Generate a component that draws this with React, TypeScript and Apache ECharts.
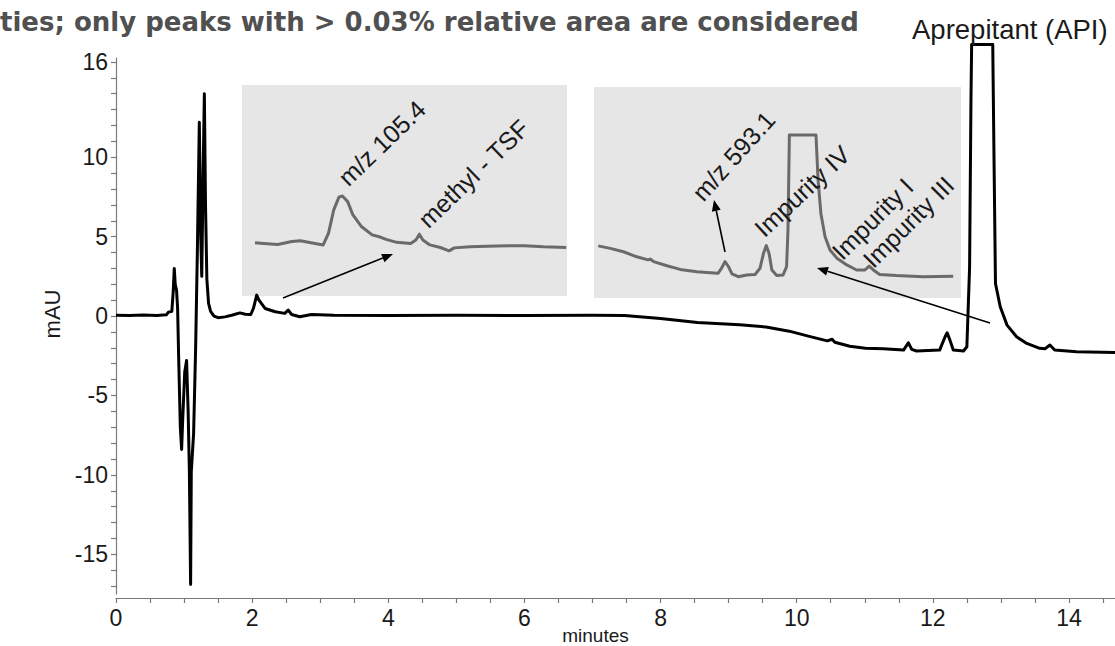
import React, { useEffect, useRef } from "react";
import * as echarts from "echarts";

// Main chromatogram: [minutes, mAU]
const mainTrace: [number, number][] = [
  [0, 0.05], [0.2, 0.03], [0.4, 0.06], [0.6, 0.04], [0.74, 0.08], [0.77, 0.25], [0.82, 0.3],
  [0.84, 1.5], [0.856, 3.0], [0.87, 2.0], [0.89, 1.6], [0.905, 0.5], [0.92, -2.5], [0.945, -7.0],
  [0.964, -8.4], [0.98, -6.5], [1.01, -3.5], [1.037, -2.8], [1.06, -6.0], [1.078, -9.8],
  [1.096, -16.9], [1.106, -9.8], [1.14, -7.4], [1.17, -2.0], [1.195, 4.0], [1.224, 12.2],
  [1.245, 5.0], [1.26, 2.5], [1.28, 9.0], [1.298, 14.0], [1.315, 7.0], [1.335, 2.3], [1.36, 0.8],
  [1.39, 0.3], [1.44, 0.0], [1.5, -0.1], [1.6, -0.05], [1.7, 0.05], [1.82, 0.2], [1.9, 0.12],
  [1.98, 0.1], [2.02, 0.5], [2.067, 1.32], [2.1, 1.0], [2.19, 0.48], [2.34, 0.27], [2.48, 0.17],
  [2.53, 0.38], [2.58, 0.1], [2.7, -0.04], [2.87, 0.1], [3.2, 0.05], [4.0, 0.03], [5.0, 0.05],
  [6.0, 0.04], [7.0, 0.05], [7.47, 0.04], [8.0, -0.15], [8.54, -0.41], [9.16, -0.55],
  [9.55, -0.69], [9.89, -0.95], [10.17, -1.26], [10.45, -1.56], [10.52, -1.46], [10.56, -1.65],
  [10.78, -1.9], [11.01, -2.02], [11.27, -2.05], [11.57, -2.14], [11.64, -1.68], [11.69, -2.1],
  [11.76, -2.2], [12.1, -2.14], [12.18, -1.3], [12.21, -1.05], [12.25, -1.5], [12.3, -2.14],
  [12.45, -2.2], [12.5, -1.93], [12.54, 3.1], [12.56, 13.6], [12.57, 17.1], [12.88, 17.1],
  [12.9, 9.4], [12.92, 2.05], [12.99, 0.59], [13.09, -0.57], [13.23, -1.3], [13.38, -1.72],
  [13.57, -2.03], [13.65, -2.05], [13.72, -1.82], [13.79, -2.14], [14.11, -2.24], [14.676, -2.3],
];

// Inset 1 (zoom of 1.6 - 3.4 min), [minutes, mAU]
const inset1Trace: [number, number][] = [
  [1.6, 0.01], [1.65, -0.01], [1.73, -0.04], [1.81, 0.04], [1.86, 0.06], [1.92, 0.01],
  [1.99, -0.05], [2.02, 0.26], [2.05, 0.89], [2.08, 1.24], [2.1, 1.27], [2.13, 1.12],
  [2.16, 0.76], [2.21, 0.44], [2.27, 0.22], [2.31, 0.17], [2.35, 0.1], [2.41, 0.02],
  [2.49, -0.01], [2.52, 0.08], [2.54, 0.24], [2.56, 0.08], [2.6, -0.05], [2.66, -0.12],
  [2.71, -0.21], [2.74, -0.13], [2.83, -0.1], [2.98, -0.08], [3.14, -0.07], [3.25, -0.1],
  [3.38, -0.12],
];

// Inset 2 (zoom of 9.8 - 14.9 min), [minutes, relative mAU]
const inset2Trace: [number, number][] = [
  [9.84, 1.04], [10.01, 0.95], [10.2, 0.83], [10.39, 0.65], [10.55, 0.54], [10.58, 0.57],
  [10.63, 0.48], [10.82, 0.33], [11.01, 0.2], [11.25, 0.12], [11.44, 0.08], [11.55, 0.06],
  [11.6, 0.24], [11.65, 0.48], [11.7, 0.3], [11.75, 0.04], [11.84, -0.06], [11.96, 0.0],
  [12.08, 0.02], [12.15, 0.24], [12.2, 0.77], [12.24, 1.05], [12.28, 0.77], [12.32, 0.18],
  [12.39, -0.02], [12.48, 0.0], [12.53, 0.3], [12.55, 1.61], [12.57, 5.0], [12.95, 5.0],
  [12.98, 3.39], [13.02, 2.2], [13.08, 1.37], [13.15, 0.89], [13.25, 0.6], [13.39, 0.36],
  [13.53, 0.18], [13.65, 0.18], [13.71, 0.32], [13.77, 0.18], [13.86, 0.02], [14.1, -0.02],
  [14.48, -0.06], [14.91, -0.04],
];

const xTickValues = [0, 0.5, 1, 1.5, 2, 2.5, 3, 3.5, 4, 4.5, 5, 5.5, 6, 6.5, 7, 7.5, 8, 8.5, 9, 9.5, 10, 10.5, 11, 11.5, 12, 12.5, 13, 13.5, 14, 14.5];
const xLabelValues = [0, 2, 4, 6, 8, 10, 12, 14];
const yTickValues = [-17, -16, -15, -14, -13, -12, -11, -10, -9, -8, -7, -6, -5, -4, -3, -2, -1, 0, 1, 2, 3, 4, 5, 6, 7, 8, 9, 10, 11, 12, 13, 14, 15, 16];
const yLabelValues = [-15, -10, -5, 0, 5, 10, 16];

const titleText = "ties; only peaks with > 0.03% relative area are considered";
const apiLabel = "Aprepitant (API)";
const peakLabels = ["m/z 105.4", "methyl - TSF", "m/z 593.1", "Impurity IV", "Impurity I", "Impurity III"];

const FONT = '"Liberation Sans", Arial, Helvetica, sans-serif';
const AXIS_COLOR = "#7a7a7a";
const TEXT_COLOR = "#1a1a1a";

function arrow(x1: number, y1: number, x2: number, y2: number): any[] {
  const dx = x2 - x1;
  const dy = y2 - y1;
  const len = Math.sqrt(dx * dx + dy * dy);
  const ux = dx / len;
  const uy = dy / len;
  const hl = 11;
  const hw = 4.5;
  const bx = x2 - ux * hl;
  const by = y2 - uy * hl;
  return [
    {
      type: "line",
      z: 50,
      shape: { x1, y1, x2: bx, y2: by },
      style: { stroke: "#000", lineWidth: 1.6 },
    },
    {
      type: "polygon",
      z: 50,
      shape: {
        points: [
          [x2, y2],
          [bx - uy * hw, by + ux * hw],
          [bx + uy * hw, by - ux * hw],
        ],
      },
      style: { fill: "#000" },
    },
  ];
}

function rotText(text: string, x: number, y: number, deg: number): any {
  return {
    type: "text",
    z: 60,
    x,
    y,
    rotation: (deg * Math.PI) / 180,
    style: {
      text,
      font: `25px ${FONT}`,
      fill: TEXT_COLOR,
      align: "left",
      verticalAlign: "bottom",
    },
  };
}

export default function App() {
  const ref = useRef<HTMLDivElement>(null);

  useEffect(() => {
    if (!ref.current) return;
    const chart = echarts.init(ref.current, undefined, { renderer: "svg" });

    const option: any = {
      animation: false,
      backgroundColor: "#ffffff",
      grid: [
        { left: 116, right: 0, top: 58, bottom: 52, outerBoundsMode: "none", containLabel: false },
        { left: 255, width: 313, top: 85, height: 211, outerBoundsMode: "none" },
        { left: 598, width: 357, top: 87, height: 211, outerBoundsMode: "none" },
      ],
      xAxis: [
        {
          type: "value",
          gridIndex: 0,
          min: 0,
          max: 14.676,
          offset: 4,
          splitLine: { show: false },
          axisLine: { show: true, onZero: false, lineStyle: { color: AXIS_COLOR, width: 1.2 } },
          axisTick: { show: true, customValues: xTickValues, length: 5, lineStyle: { color: AXIS_COLOR, width: 1.2 } },
          axisLabel: { customValues: xLabelValues, fontSize: 23, color: TEXT_COLOR, fontFamily: FONT, margin: 8 },
          name: "minutes",
          nameLocation: "middle",
          nameGap: 28,
          nameMoveOverlap: false,
          nameTextStyle: {
            fontSize: 19,
            color: TEXT_COLOR,
            fontFamily: FONT,
            verticalAlign: "top",
            lineHeight: 19,
            padding: [0, 40, 0, 0],
          },
        },
        { type: "value", gridIndex: 1, min: 1.6, max: 3.39, show: false },
        { type: "value", gridIndex: 2, min: 9.836, max: 14.936, show: false },
      ],
      yAxis: [
        {
          type: "value",
          gridIndex: 0,
          min: -17.5,
          max: 16.25,
          splitLine: { show: false },
          axisLine: { show: true, onZero: false, lineStyle: { color: AXIS_COLOR, width: 1.2 } },
          axisTick: { show: true, customValues: yTickValues, length: 5, lineStyle: { color: AXIS_COLOR, width: 1.2 } },
          axisLabel: { customValues: yLabelValues, fontSize: 23, color: TEXT_COLOR, fontFamily: FONT, margin: 8 },
          name: "mAU",
          nameLocation: "middle",
          nameGap: 46,
          nameRotate: 90,
          nameTextStyle: { fontSize: 22, color: TEXT_COLOR, fontFamily: FONT, padding: [0, 0, 0, 24] },
        },
        { type: "value", gridIndex: 1, min: -1.43, max: 4.27, show: false },
        { type: "value", gridIndex: 2, min: -0.821, max: 6.714, show: false },
      ],
      series: [
        {
          type: "line",
          xAxisIndex: 0,
          yAxisIndex: 0,
          data: mainTrace,
          showSymbol: false,
          clip: false,
          z: 5,
          lineStyle: { color: "#000", width: 3, join: "round" },
        },
        {
          type: "line",
          xAxisIndex: 1,
          yAxisIndex: 1,
          data: inset1Trace,
          showSymbol: false,
          clip: false,
          z: 4,
          lineStyle: { color: "#6a6a6a", width: 3, join: "round" },
        },
        {
          type: "line",
          xAxisIndex: 2,
          yAxisIndex: 2,
          data: inset2Trace,
          showSymbol: false,
          clip: false,
          z: 4,
          lineStyle: { color: "#6a6a6a", width: 3, join: "round" },
        },
      ],
      graphic: [
        { type: "rect", z: 0, shape: { x: 242, y: 85, width: 325, height: 211 }, style: { fill: "#e6e6e6" } },
        { type: "rect", z: 0, shape: { x: 594, y: 87, width: 367, height: 211 }, style: { fill: "#e6e6e6" } },
        {
          type: "text",
          z: 60,
          x: 0,
          y: 22,
          style: {
            text: titleText,
            font: 'bold 26px "DejaVu Sans", sans-serif',
            fill: "#505050",
            align: "left",
            verticalAlign: "middle",
          },
        },
        {
          type: "text",
          z: 60,
          x: 912,
          y: 29,
          style: {
            text: apiLabel,
            font: `27.5px ${FONT}`,
            fill: TEXT_COLOR,
            align: "left",
            verticalAlign: "middle",
          },
        },
        rotText(peakLabels[0], 351, 190, 44),
        rotText(peakLabels[1], 431, 232, 44),
        rotText(peakLabels[2], 706, 205, 48),
        rotText(peakLabels[3], 767, 241, 43),
        rotText(peakLabels[4], 845, 264, 45),
        rotText(peakLabels[5], 876, 272, 45),
        ...arrow(283, 298, 393, 254),
        ...arrow(725, 252, 714, 200),
        ...arrow(990, 323, 817, 268),
      ],
    };

    chart.setOption(option);
    return () => chart.dispose();
  }, []);

  return (
    <div
      ref={ref}
      style={{ position: "fixed", left: 0, top: 0, width: 1115, height: 646 }}
    />
  );
}
